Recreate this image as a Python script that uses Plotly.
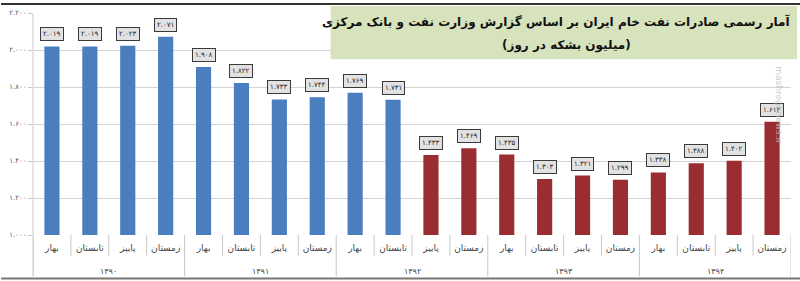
import plotly.graph_objects as go

years = ["۱۳۹۰", "۱۳۹۱", "۱۳۹۲", "۱۳۹۳", "۱۳۹۴"]
seasons = ["بهار", "تابستان", "پاییز", "زمستان"]
values = [2019, 2019, 2023, 2071,
          1908, 1822, 1733, 1744,
          1769, 1731, 1433, 1469,
          1435, 1303, 1321, 1299,
          1338, 1388, 1402, 1612]
n_blue = 10
y_ticks = [1000, 1200, 1400, 1600, 1800, 2000, 2200]

title_line1 = "آمار رسمی صادرات نفت خام ایران بر اساس گزارش وزارت نفت و بانک مرکزی"
title_line2 = "(میلیون بشکه در روز)"

BLUE = "#4A7EBF"
RED = "#992D30"
SEP = "#C8C8C8"
FA = str.maketrans("0123456789", "۰۱۲۳۴۵۶۷۸۹")

PT, PB, PL, PR = 10, 235, 32, 791   # plot area in pixels
PH, PW = PB - PT, PR - PL


def fa(v):
    return f"{v:,}".replace(",", ".").translate(FA)


def py(pix):
    return (PB - pix) / PH


def px(pix):
    return (pix - PL) / PW


n = len(values)
xs = list(range(n))
season_labels = [s for _ in years for s in seasons]
colors = [BLUE if i < n_blue else RED for i in range(n)]

fig = go.Figure()
fig.add_trace(go.Bar(
    x=xs, y=values,
    marker=dict(color=colors, line=dict(width=0)),
    width=0.4, hoverinfo="skip",
))

for i, v in enumerate(values):
    fig.add_annotation(
        x=i, y=v, xref="x", yref="y", yanchor="bottom", yshift=5,
        text=fa(v), showarrow=False,
        font=dict(family="DejaVu Sans", size=7, color="#222"),
        bgcolor="#E2E2E2", bordercolor="#3A3A3A", borderwidth=1, borderpad=2,
    )

# category separators (short) and year separators (long)
for b in range(n + 1):
    long_ = b % len(seasons) == 0
    fig.add_shape(type="line", xref="x", yref="paper",
                  x0=b - 0.5, x1=b - 0.5,
                  y0=py(235), y1=py(277 if long_ else 256),
                  line=dict(color=SEP, width=1))

# year labels
for k, yr in enumerate(years):
    fig.add_annotation(x=k * len(seasons) + (len(seasons) - 1) / 2, xref="x",
                       y=py(272), yref="paper", yanchor="middle", showarrow=False,
                       text=yr, font=dict(family="DejaVu Sans", size=8, color="#444"))

# title box
fig.add_shape(type="rect", xref="paper", yref="paper",
              x0=px(330), x1=px(797), y0=py(57), y1=py(3),
              fillcolor="#D6E3BC", line=dict(width=0), layer="above")
fig.add_annotation(xref="paper", yref="paper",
                   x=px(792), y=py(19),
                   xanchor="right", yanchor="middle", showarrow=False,
                   text=f"<b>{title_line1}</b>",
                   font=dict(family="DejaVu Sans", size=12, color="#111"))
fig.add_annotation(xref="paper", yref="paper",
                   x=px(566), y=py(43),
                   xanchor="center", yanchor="middle", showarrow=False,
                   text=f"<b>{title_line2}</b>",
                   font=dict(family="DejaVu Sans", size=12, color="#111"))

# watermark
fig.add_annotation(xref="paper", yref="paper",
                   x=px(786), y=py(62),
                   textangle=90, showarrow=False,
                   text="mashreghnews.ir",
                   font=dict(family="DejaVu Sans", size=9, color="rgba(190,190,190,0.8)"))

# frame lines
fig.add_shape(type="line", xref="paper", yref="paper",
              x0=px(0), x1=px(800), y0=py(1), y1=py(1),
              line=dict(color="#333", width=2))
fig.add_shape(type="line", xref="paper", yref="paper",
              x0=px(0), x1=px(800), y0=py(279), y1=py(279),
              line=dict(color="#777", width=2))
fig.add_shape(type="line", xref="paper", yref="paper",
              x0=0, x1=0, y0=py(277), y1=py(PT),
              line=dict(color=SEP, width=1))

fig.update_layout(
    width=800, height=281,
    margin=dict(l=PL, r=800 - PR, t=PT, b=281 - PB),
    paper_bgcolor="white", plot_bgcolor="white",
    showlegend=False,
    font=dict(family="DejaVu Sans", color="#444"),
    xaxis=dict(
        tickvals=xs, ticktext=season_labels, tickangle=0,
        ticks="", ticklabelstandoff=6,
        tickfont=dict(family="DejaVu Sans", size=9, color="#444"),
        showline=False, showgrid=False, zeroline=False,
        range=[-0.5, n - 0.5],
    ),
    yaxis=dict(
        range=[1000, 2200],
        tickvals=y_ticks, ticktext=[fa(t) for t in y_ticks],
        tickfont=dict(family="DejaVu Sans", size=7, color="#555"),
        showgrid=True, gridcolor="#D3D3D3", gridwidth=1,
        zeroline=False, showline=False,
        ticks="outside", ticklen=4, tickcolor=SEP,
    ),
    bargap=0.6,
)

fig.write_html("out.html")
